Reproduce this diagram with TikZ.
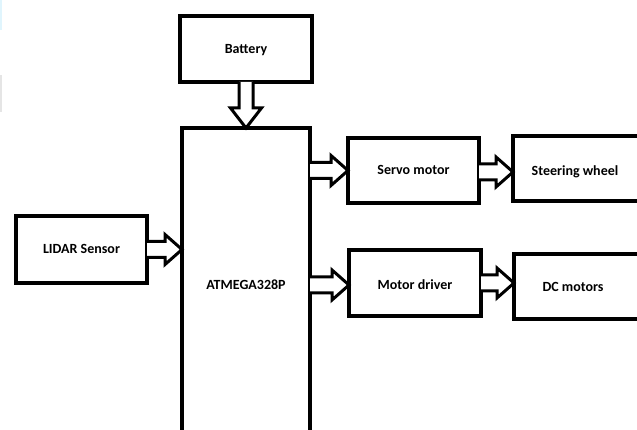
\documentclass[tikz,border=0pt]{standalone}
\usepackage{fontspec}
\setmainfont{Carlito}
\usetikzlibrary{calc}
\tikzset{
  blk/.style={draw=black, line width=3.5pt, fill=white, inner sep=0pt, outer sep=0pt,
    font=\fontsize{14}{16}\selectfont\bfseries, text height=9pt, text depth=0pt},
  barrow/.style={draw=black, line width=3pt, fill=white, line join=miter}
}
\newcommand\harrowxy[3]{%
  \draw[barrow] let \p1=(#1.east), \p2=(#2.west) in
    (\x1,\y2+#3+8pt) -- (\x2-17pt,\y2+#3+8pt) -- (\x2-17pt,\y2+#3+15pt) -- (\x2,\y2+#3)
    -- (\x2-17pt,\y2+#3-15pt) -- (\x2-17pt,\y2+#3-8pt) -- (\x1,\y2+#3-8pt);}
\begin{document}
\begin{tikzpicture}[x=1pt,y=-1pt]
\useasboundingbox (0,0) rectangle (637,430);
\clip (0,0) rectangle (637,430);
\fill[cyan!12] (0,0) rectangle (2,30);
\fill[black!10] (0,75) rectangle (2,112);
% boxes
\node[blk, minimum width=132pt, minimum height=66pt] (bat) at (246,49) {Battery};
\node[blk, minimum width=128pt, minimum height=314pt] (mcu) at (246,285) {ATMEGA328P};
\node[blk, minimum width=131pt, minimum height=67pt] (lidar) at (81.5,249.5) {LIDAR Sensor};
\node[blk, minimum width=131pt, minimum height=65pt] (servo) at (413.5,170.5) {Servo motor};
\node[blk, minimum width=140pt, minimum height=65pt] (steer) at (583,168.5) {\hspace*{-16pt}\raisebox{-3pt}{Steering wheel}};
\node[blk, minimum width=132pt, minimum height=66pt] (drv) at (415,283) {\raisebox{-2pt}{Motor driver}};
\node[blk, minimum width=140pt, minimum height=65pt] (dc) at (584,286.5) {\hspace*{-22pt}DC motors};
% battery arrow (down)
\draw[barrow] let \p1=(bat.south), \p2=(mcu.north) in
  (\x1-7pt,\y1) -- (\x1-7pt,\y2+20pt) -- (\x1-15.5pt,\y2+20pt) -- (\x1,\y2)
  -- (\x1+15.5pt,\y2+20pt) -- (\x1+7pt,\y2+20pt) -- (\x1+7pt,\y1);
% horizontal arrows
\harrowxy{lidar}{mcu}{35.5pt}
\harrowxy{mcu}{servo}{0pt}
\harrowxy{servo}{steer}{-3.5pt}
\harrowxy{mcu}{drv}{-2pt}
\harrowxy{drv}{dc}{3.5pt}
\end{tikzpicture}
\end{document}
